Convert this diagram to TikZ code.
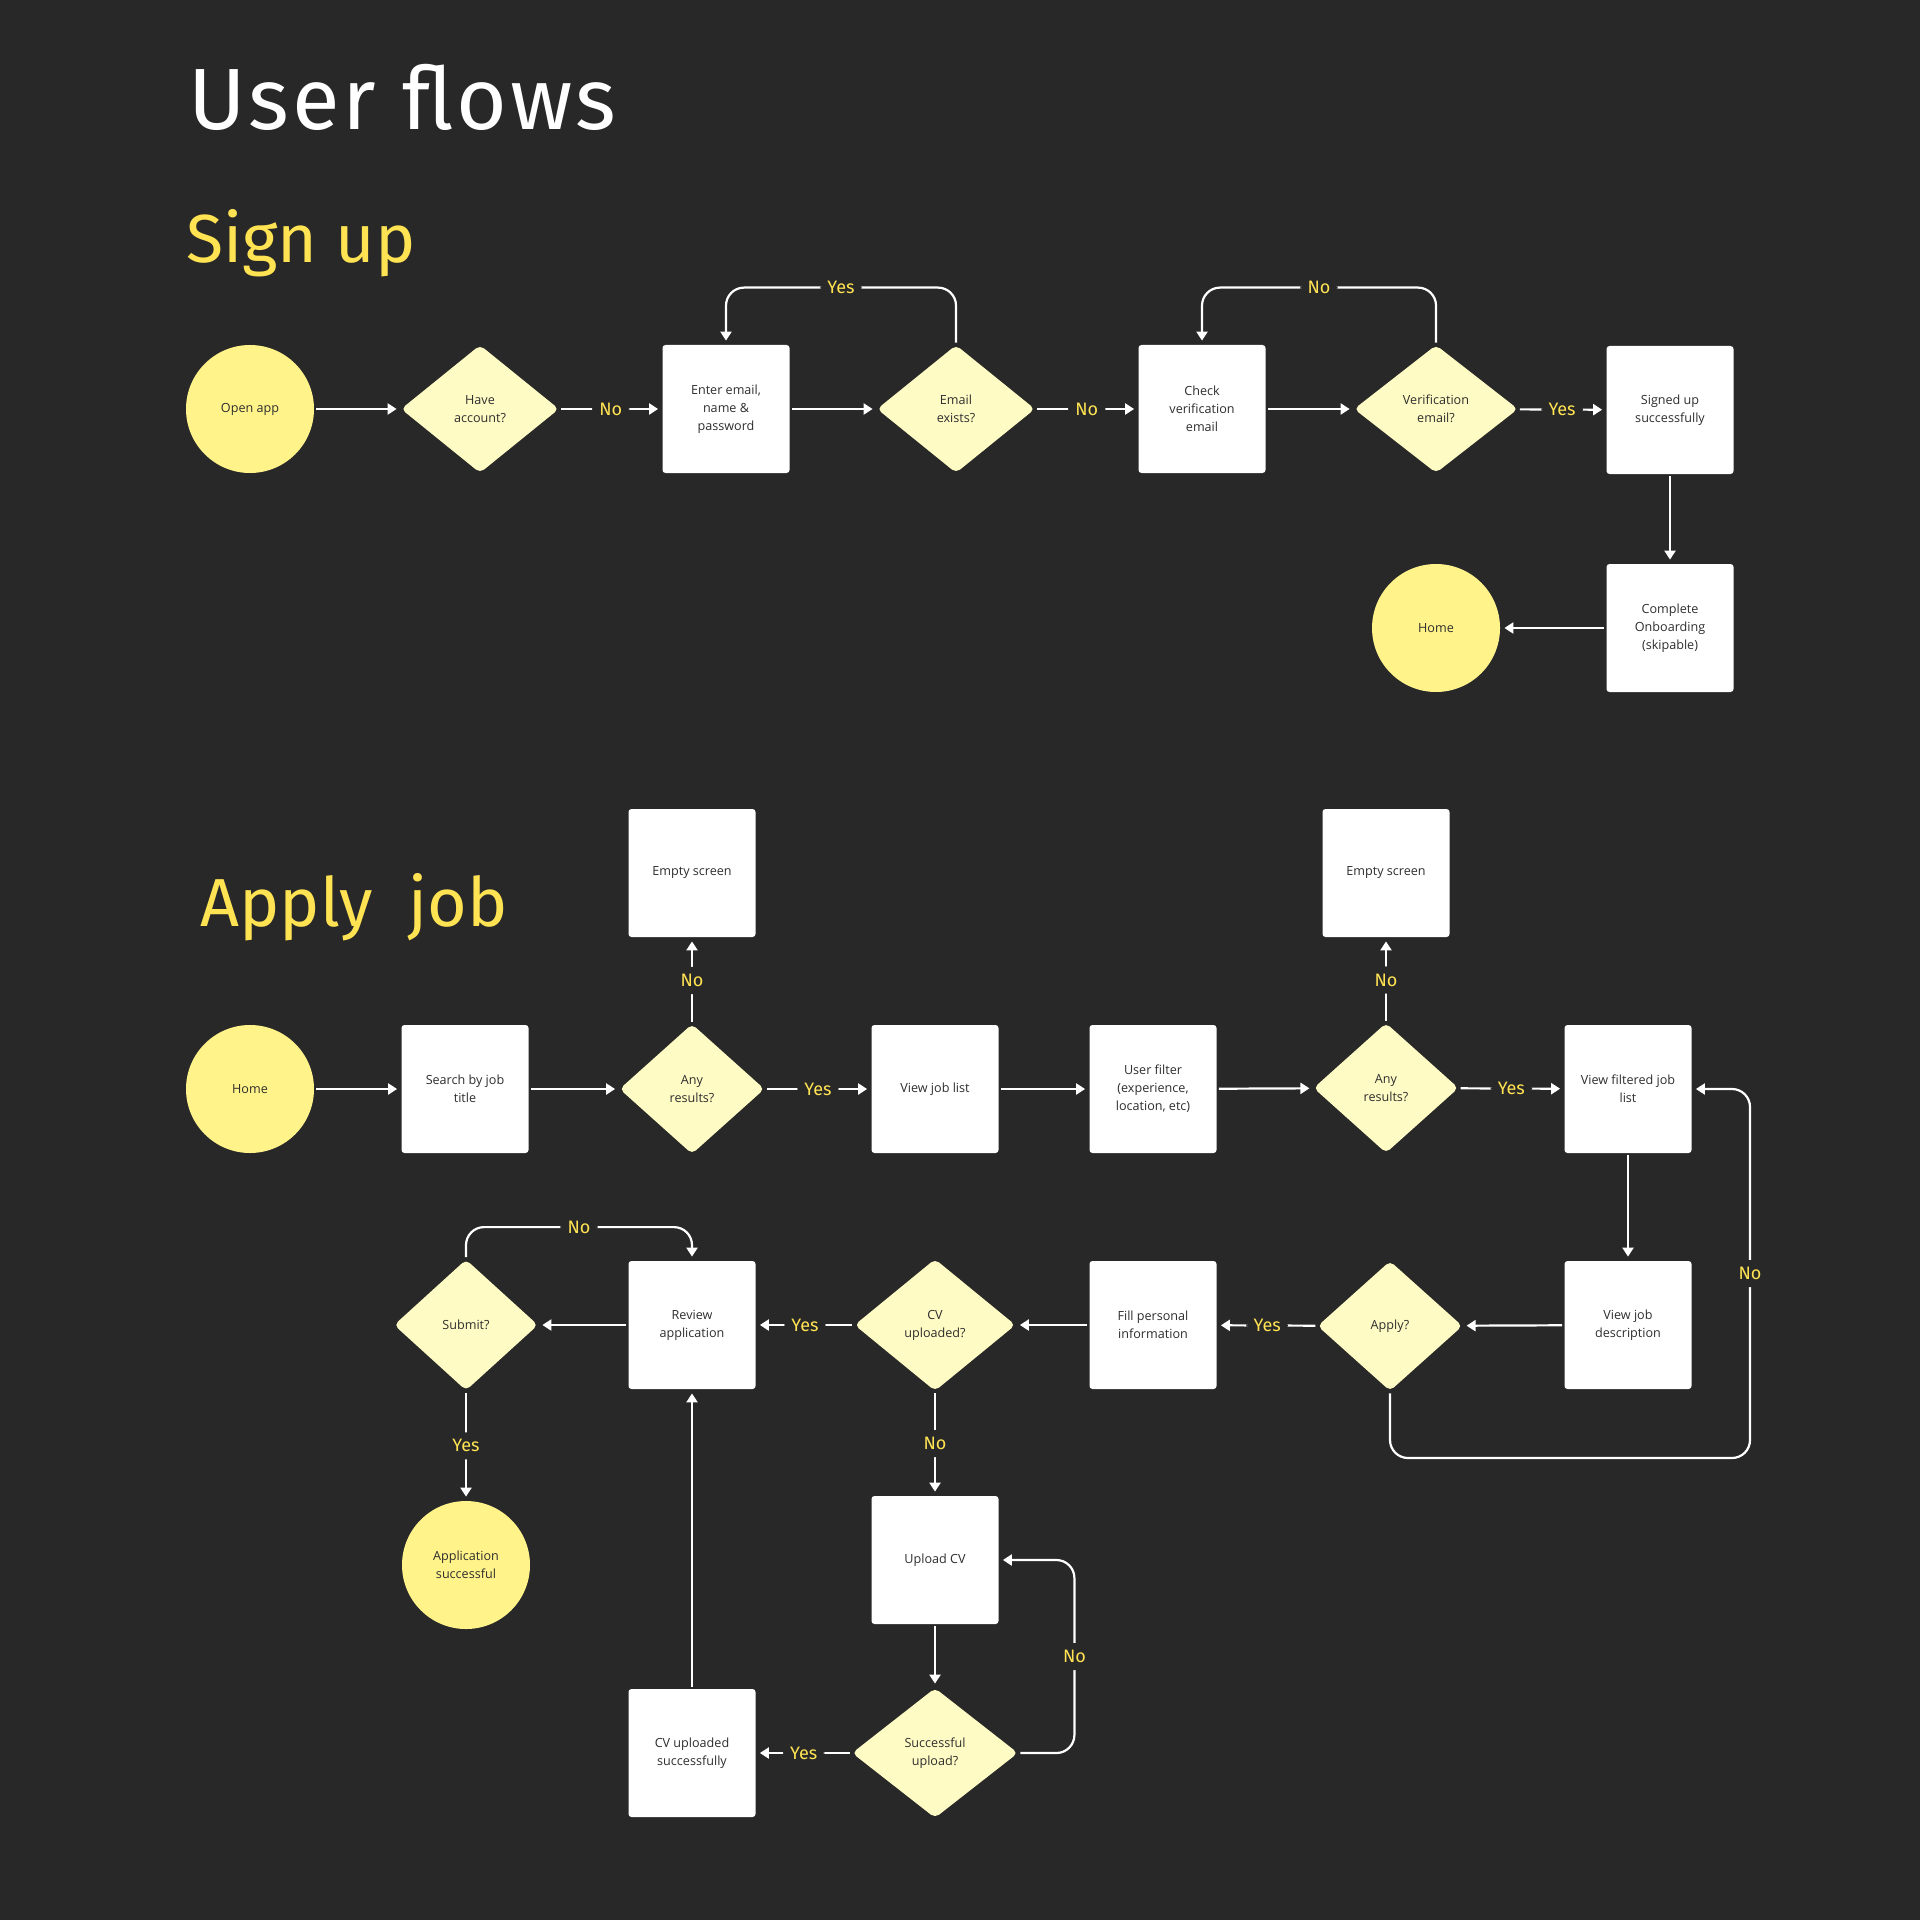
\documentclass[tikz,border=0pt]{standalone}
\usepackage{fontspec}
\setmainfont{Open Sans}
\newfontfamily\labelfont{Fira Sans}
\newfontfamily\titlefont[LetterSpace=3.5]{Fira Sans}
\usetikzlibrary{shapes.geometric,arrows.meta}
\definecolor{bg}{HTML}{282828}
\definecolor{sun}{HTML}{FFF38A}
\definecolor{cream}{HTML}{FFFBC4}
\definecolor{gold}{HTML}{FFE353}
\definecolor{ink}{HTML}{2E2E2E}
\tikzset{
  nodetext/.style={align=center,text=ink,font=\fontsize{6.3}{9}\selectfont},
  screen/.style={nodetext,rectangle,fill=white,rounded corners=1.5pt,minimum width=63.5pt,minimum height=64pt,inner sep=1pt},
  ask/.style={nodetext,diamond,fill=cream,rounded corners=2.5pt,minimum width=79pt,minimum height=64pt,inner sep=0pt},
  ends/.style={nodetext,circle,fill=sun,minimum size=64pt,inner sep=0pt},
  flow/.style={draw=white,line width=1.1pt,-{Triangle[width=5.5pt,length=4.5pt]},shorten >=2pt,shorten <=1pt,rounded corners=9pt},
  lbl/.style={fill=bg,text=gold,inner sep=3.6pt,font=\labelfont\fontsize{9}{9}\selectfont},
  heading/.style={anchor=base west,inner sep=0pt,font=\labelfont\fontsize{34}{34}\selectfont,text=gold}
}
\begin{document}
\begin{tikzpicture}[x=0.5pt,y=-0.5pt]
\fill[bg] (0,0) rectangle (1920,1920);
\node[heading,text=white,font=\titlefont\fontsize{43.5}{43.5}\selectfont] (title) at (188,130) {User flows};
\node[heading] (signhead) at (186,263) {Sign up};
\node[heading] (applyhead) at (200,926) {Apply~~job};

\node[ends] (open) at (250,409) {Open app};
\node[ask] (have) at (480,409) {Have\\account?};
\node[screen] (ent) at (726,409) {Enter email,\\name \&\\password};
\node[ask] (ee) at (956,409) {Email\\exists?};
\node[screen] (chk) at (1202,409) {Check\\verification\\email};
\node[ask,minimum width=82pt] (ver) at (1436,409) {Verification\\email?};
\node[screen] (sok) at (1670,410) {Signed up\\successfully};
\node[screen] (onb) at (1670,628) {Complete\\Onboarding\\(skipable)};
\node[ends] (home1) at (1436,628) {Home};

\draw[flow] (open) -- (have);
\draw[flow] (have) -- node[lbl]{No} (ent);
\draw[flow] (ent) -- (ee);
\draw[flow] (ee) -- node[lbl]{No} (chk);
\draw[flow] (ee.north) -- ++(0,-57) -| node[lbl,pos=0.25]{Yes} (ent.north);
\draw[flow] (chk) -- (ver);
\draw[flow] (ver.north) -- ++(0,-57) -| node[lbl,pos=0.25]{No} (chk.north);
\draw[flow] (ver) -- node[lbl]{Yes} (sok);
\draw[flow] (sok) -- (onb);
\draw[flow] (onb) -- (home1);

\node[ends] (home2) at (250,1089) {Home};
\node[screen] (srch) at (465,1089) {Search by job\\title};
\node[ask,minimum width=72.5pt,minimum height=65pt] (any1) at (692,1089) {Any\\results?};
\node[screen] (emp1) at (692,873) {Empty screen};
\node[screen] (vjl) at (935,1089) {View job list};
\node[screen] (filt) at (1153,1089) {User filter\\(experience,\\location, etc)};
\node[ask,minimum width=72.5pt,minimum height=65pt] (any2) at (1386,1088) {Any\\results?};
\node[screen] (emp2) at (1386,873) {Empty screen};
\node[screen] (vfl) at (1628,1089) {View filtered job\\list};
\node[screen] (vjd) at (1628,1325) {View job\\description};
\node[ask,minimum width=72.5pt,minimum height=65pt] (apply) at (1390,1326) {Apply?};
\node[screen] (fill) at (1153,1325) {Fill personal\\information};
\node[ask,minimum width=80.5pt,minimum height=66pt] (cvq) at (935,1325) {CV\\uploaded?};
\node[screen] (rev) at (692,1325) {Review\\application};
\node[ask,minimum width=72pt,minimum height=65.5pt] (sub) at (466,1325) {Submit?};
\node[ends] (appok) at (466,1565) {Application\\successful};
\node[screen] (upl) at (935,1560) {Upload CV};
\node[ask,minimum width=83pt,minimum height=65pt] (su) at (935,1753) {Successful\\upload?};
\node[screen] (cvok) at (692,1753) {CV uploaded\\successfully};
\coordinate (nocorner) at (1750,1458);

\draw[flow] (home2) -- (srch);
\draw[flow] (srch) -- (any1);
\draw[flow] (any1) -- node[lbl]{No} (emp1);
\draw[flow] (any1) -- node[lbl]{Yes} (vjl);
\draw[flow] (vjl) -- (filt);
\draw[flow] (filt) -- (any2);
\draw[flow] (any2) -- node[lbl]{No} (emp2);
\draw[flow] (any2) -- node[lbl]{Yes} (vfl);
\draw[flow] (vfl) -- (vjd);
\draw[flow] (vjd) -- (apply);
\draw[flow] (apply.south) |- (nocorner) |- node[lbl,pos=0.25]{No} (vfl.east);
\draw[flow] (apply) -- node[lbl]{Yes} (fill);
\draw[flow] (fill) -- (cvq);
\draw[flow] (cvq) -- node[lbl]{Yes} (rev);
\draw[flow] (cvq) -- node[lbl]{No} (upl);
\draw[flow] (rev) -- (sub);
\draw[flow] (sub.north) -- ++(0,-32) -| node[lbl,pos=0.25]{No} (rev.north);
\draw[flow] (sub) -- node[lbl]{Yes} (appok);
\draw[flow] (upl) -- (su);
\draw[flow] (su.east) -- ++(56,0) |- node[lbl,pos=0.25]{No} (upl.east);
\draw[flow] (su) -- node[lbl]{Yes} (cvok);
\draw[flow] (cvok) -- (rev);
\end{tikzpicture}
\end{document}
